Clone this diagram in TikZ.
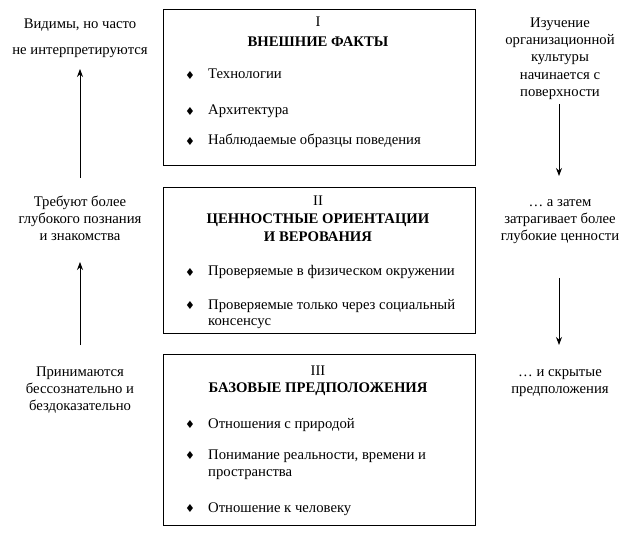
\documentclass[tikz,border=0pt]{standalone}
\usepackage{fontspec}
\setmainfont{Liberation Serif}
\newfontfamily\symfont{DejaVu Sans}
\usetikzlibrary{arrows.meta}
\tikzset{
  layer/.style={draw, line width=1pt, minimum width=312pt, anchor=north west, inner sep=0pt},
  txt/.style={font=\fontsize{14.7}{17.3}\selectfont, inner sep=0pt},
  side/.style={txt, align=center, anchor=north},
  head/.style={txt, align=center, anchor=base},
  item/.style={txt, align=left, anchor=base west},
  bul/.style={font=\symfont\fontsize{11}{11}\selectfont, inner sep=0pt},
  flow/.style={line width=0.8pt, -{Stealth[length=8pt,width=6pt]}}
}
\begin{document}
\begin{tikzpicture}[x=1pt,y=-1pt]
\useasboundingbox (0,0) rectangle (626,534);
% boxes
\node[layer, minimum height=156pt] (b1) at (163,9) {};
\node[layer, minimum height=146pt] (b2) at (163,187) {};
\node[layer, minimum height=171pt] (b3) at (163,354) {};
% box 1
\node[head] (h1a) at (318,27) {I};
\node[head] (h1b) at (318,47) {\textbf{ВНЕШНИЕ ФАКТЫ}};
\node[bul] (d11) at (190,75) {♦};
\node[item] (t11) at (208,79) {Технологии};
\node[bul] (d12) at (190,111) {♦};
\node[item] (t12) at (208,115) {Архитектура};
\node[bul] (d13) at (190,141) {♦};
\node[item] (t13) at (208,145) {Наблюдаемые образцы поведения};
% box 2
\node[head] (h2a) at (318,206) {II};
\node[head] (h2b) at (318,224) {\textbf{ЦЕННОСТНЫЕ ОРИЕНТАЦИИ}};
\node[head] (h2c) at (318,242) {\textbf{И ВЕРОВАНИЯ}};
\node[bul] (d21) at (190,272) {♦};
\node[item] (t21) at (208,276) {Проверяемые в физическом окружении};
\node[bul] (d22) at (190,305) {♦};
\node[item] (t22) at (208,309) {Проверяемые только через социальный};
\node[item] (t22b) at (208,326) {консенсус};
% box 3
\node[head] (h3a) at (318,375) {III};
\node[head] (h3b) at (318,392) {\textbf{БАЗОВЫЕ ПРЕДПОЛОЖЕНИЯ}};
\node[bul] (d31) at (190,424) {♦};
\node[item] (t31) at (208,428) {Отношения с природой};
\node[bul] (d32) at (190,455) {♦};
\node[item] (t32) at (208,459) {Понимание реальности, времени и};
\node[item] (t32b) at (208,476) {пространства};
\node[bul] (d33) at (190,508) {♦};
\node[item] (t33) at (208,512) {Отношение к человеку};
% left labels
\node[side, font=\fontsize{14.7}{26}\selectfont] (l1) at (80,10.2) {\strut Видимы, но часто\\не интерпретируются};
\node[side] (l2) at (80,194) {\strut Требуют более\\глубокого познания\\и знакомства};
\node[side] (l3) at (80,364) {\strut Принимаются\\бессознательно и\\бездоказательно};
% right labels
\node[side] (r1) at (560,15) {\strut Изучение\\организационной\\культуры\\начинается с\\поверхности};
\node[side] (r2) at (560,194) {\strut \dots\ а затем\\затрагивает более\\глубокие ценности};
\node[side] (r3) at (560,364) {\strut \dots\ и скрытые\\предположения};
% arrows
\coordinate (a1s) at (80,178);
\coordinate (a1e) at (80,69);
\coordinate (a2s) at (80,345);
\coordinate (a2e) at (80,262);
\coordinate (a3s) at (559,104);
\coordinate (a3e) at (559,176);
\coordinate (a4s) at (559,278);
\coordinate (a4e) at (559,345);
\draw[flow] (a1s) -- (a1e);
\draw[flow] (a2s) -- (a2e);
\draw[flow] (a3s) -- (a3e);
\draw[flow] (a4s) -- (a4e);
\end{tikzpicture}
\end{document}
